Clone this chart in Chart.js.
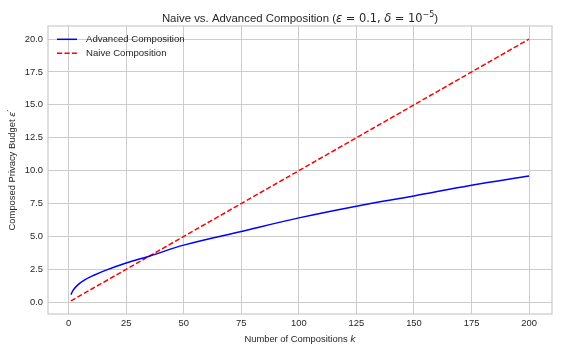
<!DOCTYPE html>
<html>
<head>
<meta charset="utf-8">
<script src="https://cdn.jsdelivr.net/npm/chart.js@4.4.1/dist/chart.umd.min.js"></script>
<style>
  html, body { margin: 0; padding: 0; background: #ffffff; }
  #wrap { width: 568px; height: 352px; }
</style>
</head>
<body>
<div id="wrap"><canvas id="comp-chart" width="568" height="352"></canvas></div>
<script>
// values
const kAdvanced = [1, 2, 4, 7, 11, 16, 25, 35, 50, 75, 100, 125, 150, 175, 200];
const epsAdvanced = [0.58, 0.92, 1.32, 1.70, 2.05, 2.42, 2.98, 3.50, 4.34, 5.38, 6.41, 7.30, 8.08, 8.89, 9.59];
const kNaive = [1, 200];
const epsNaive = [0.1, 20.0];

const xTicks = [0, 25, 50, 75, 100, 125, 150, 175, 200];
const yTicks = [0, 2.5, 5, 7.5, 10, 12.5, 15, 17.5, 20];

const seriesNames = ["Advanced Composition", "Naive Composition"];

const SANS = "'Liberation Sans', Arial, sans-serif";
const MATH = "'DejaVu Sans', sans-serif";
const TEXT_COLOR = "#262626";
const GRID_COLOR = "#cccccc";

function toPoints(xs, ys) {
    return xs.map((x, i) => ({x: x, y: ys[i]}));
}

// draws a list of text runs (with own font / vertical shift) one after another
function drawRuns(ctx, runs, cx, cy) {
    var total = 0;
    runs.forEach(r => { ctx.font = r.font; total += ctx.measureText(r.t).width; });
    var x = cx - total / 2;
    runs.forEach(r => {
        ctx.font = r.font;
        ctx.fillText(r.t, x, cy + (r.dy || 0));
        x += ctx.measureText(r.t).width;
    });
}

const decorations = {
    id: 'decorations',
    afterDraw(chart) {
        const ctx = chart.ctx;
        const ca = chart.chartArea;
        ctx.save();

        // axes frame (all four spines)
        ctx.strokeStyle = GRID_COLOR;
        ctx.lineWidth = 1.25;
        ctx.strokeRect(ca.left, ca.top, ca.right - ca.left, ca.bottom - ca.top);

        ctx.fillStyle = TEXT_COLOR;
        ctx.textBaseline = 'alphabetic';
        ctx.textAlign = 'left';

        // title
        const cx = (ca.left + ca.right) / 2;
        drawRuns(ctx, [
            {t: "Naive vs. Advanced Composition (", font: "11.4px " + SANS},
            {t: "\u03b5", font: "italic 11.4px " + MATH},
            {t: " = 0.1, ", font: "11.4px " + MATH},
            {t: "\u03b4", font: "italic 11.4px " + MATH},
            {t: " = 10", font: "11.4px " + MATH},
            {t: "\u22125", font: "8px " + MATH, dy: -5},
            {t: ")", font: "11.4px " + SANS}
        ], cx, 22);

        // x axis title
        drawRuns(ctx, [
            {t: "Number of Compositions ", font: "9.4px " + SANS},
            {t: "k", font: "italic 9.4px " + MATH}
        ], cx, 342);

        // y axis title
        ctx.save();
        ctx.translate(15, (ca.top + ca.bottom) / 2);
        ctx.rotate(-Math.PI / 2);
        drawRuns(ctx, [
            {t: "Composed Privacy Budget ", font: "9.4px " + SANS},
            {t: "\u03b5", font: "italic 9.4px " + MATH},
            {t: "\u2032", font: "9.4px " + MATH, dy: -1}
        ], 0, 0);
        ctx.restore();

        // legend, top left inside the axes, no frame
        chart.data.datasets.forEach((ds, i) => {
            const y = ca.top + 13.3 + i * 14;
            ctx.beginPath();
            ctx.strokeStyle = ds.borderColor;
            ctx.lineWidth = ds.borderWidth;
            ctx.setLineDash(ds.borderDash || []);
            ctx.moveTo(ca.left + 9, y);
            ctx.lineTo(ca.left + 29, y);
            ctx.stroke();
            ctx.setLineDash([]);
            ctx.font = "9.6px " + SANS;
            ctx.textBaseline = 'middle';
            ctx.fillText(ds.label, ca.left + 38, y);
        });
        ctx.restore();
    }
};

new Chart(document.getElementById("comp-chart"), {
    type: 'line',
    data: {
        datasets: [{
            label: seriesNames[0],
            data: toPoints(kAdvanced, epsAdvanced),
            borderColor: '#0000ff',
            borderWidth: 1.5,
            pointRadius: 0,
            cubicInterpolationMode: 'monotone',
            fill: false
        }, {
            label: seriesNames[1],
            data: toPoints(kNaive, epsNaive),
            borderColor: '#ff0000',
            borderWidth: 1.5,
            borderDash: [5.2, 2.3],
            pointRadius: 0,
            fill: false
        }]
    },
    options: {
        responsive: false,
        animation: false,
        devicePixelRatio: 1,
        layout: {
            padding: {top: 26, right: 16, left: 0, bottom: 0}
        },
        plugins: {
            legend: {display: false},
            title: {display: false},
            tooltip: {enabled: false}
        },
        scales: {
            x: {
                type: 'linear',
                min: -8.95,
                max: 209.95,
                afterBuildTicks: scale => { scale.ticks = xTicks.map(v => ({value: v})); },
                afterFit: scale => { scale.height = 38; },
                grid: {color: GRID_COLOR, lineWidth: 1, drawTicks: false},
                border: {display: false},
                ticks: {
                    color: TEXT_COLOR,
                    padding: 4,
                    maxRotation: 0,
                    font: {family: SANS, size: 9.4},
                    callback: v => String(v)
                }
            },
            y: {
                type: 'linear',
                min: -0.895,
                max: 20.995,
                afterBuildTicks: scale => { scale.ticks = yTicks.map(v => ({value: v})); },
                afterFit: scale => { scale.width = 48; },
                grid: {color: GRID_COLOR, lineWidth: 1, drawTicks: false},
                border: {display: false},
                ticks: {
                    color: TEXT_COLOR,
                    padding: 5,
                    font: {family: SANS, size: 9.4},
                    callback: v => v.toFixed(1)
                }
            }
        }
    },
    plugins: [decorations]
});
</script>
</body>
</html>
